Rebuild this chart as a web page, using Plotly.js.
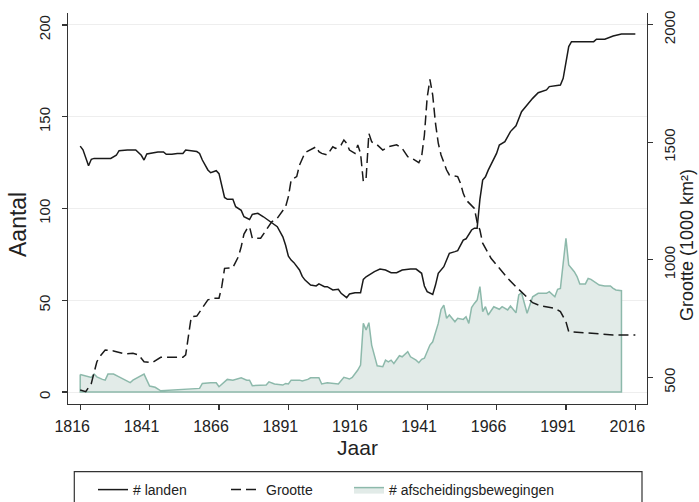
<!DOCTYPE html>
<html>
<head>
<meta charset="utf-8">
<script src="https://cdn.plot.ly/plotly-3.0.1.min.js"></script>
<style>html,body{margin:0;padding:0;background:#fff;}#chart{width:699px;height:502px;}</style>
</head>
<body>
<div id="chart"></div>
<script>
// # landen (left axis)
const landenYears = [1816,1817,1819,1820,1821,1824,1827,1829,1830,1833,1836,1838,1839,1840,1844,1846,1847,1849,1851,1853,1854,1858,1859,1860,1862,1863,1865,1866,1867,1868,1869,1871,1872,1874,1875,1877,1878,1880,1882,1885,1887,1889,1890,1891,1892,1893,1895,1896,1897,1899,1901,1902,1904,1905,1907,1909,1910,1912,1913,1915,1917,1918,1919,1922,1924,1926,1928,1930,1932,1935,1937,1939,1940,1941,1943,1944,1945,1947,1949,1951,1952,1954,1955,1957,1958,1959,1960,1961,1962,1963,1966,1967,1969,1971,1973,1975,1976,1979,1981,1984,1985,1989,1990,1991,1992,1993,2001,2002,2005,2008,2011,2016];
const landen = [134,132,123.3,126.8,127.3,127.5,127.3,129,131.5,131.9,131.9,129,126.4,129.7,130.8,130.8,129.5,129.5,130,130,131.9,131,130,126.4,121,119.5,120.6,119,112,106,105,105,101,99,95.5,94,96.8,97.4,95.5,92.3,90.1,84.6,80,74,71.9,70.5,66.5,63,61,58.3,57.8,58.9,57.4,57.4,55.6,56,53.8,51.4,53.4,54.1,54.1,61.4,62.8,65.6,67,66.5,65,65,66.5,67,67,64.7,57.8,54.7,53.2,58.3,64.7,68.3,75.6,76.5,77,82.8,83.5,88.3,89.3,89.3,105,115.5,117.3,120.9,130,134.6,136.4,141.9,145,152.7,154.6,160,163.1,164.6,166.4,167.3,170.9,180.9,188.2,190.9,190.9,192.2,192.2,194,195.1,195.1];

// Grootte (1000 km²) (right axis)
const grootteYears = [1816,1818,1820,1822,1823,1825,1828,1832,1835,1837,1839,1842,1845,1848,1853,1854,1855,1856,1858,1860,1862,1864,1866,1867,1868,1871,1873,1874,1875,1876,1877,1878,1881,1883,1885,1887,1889,1890,1891,1892,1894,1895,1897,1899,1901,1902,1903,1905,1907,1908,1910,1911,1912,1913,1915,1916,1917,1918,1919,1920,1921,1923,1925,1927,1930,1932,1934,1936,1938,1939,1940,1941,1942,1943,1944,1945,1946,1948,1949,1952,1953,1954,1955,1958,1959,1960,1961,1964,1967,1970,1973,1976,1979,1982,1987,1989,1991,1992,1997,2003,2008,2016];
const grootte = [447,440,475,567,588,617,613,600,603,596,567,563,586,586,586,596,688,758,761,794,830,837,837,886,964,967,1014,1056,1110,1130,1141,1092,1092,1127,1162,1177,1212,1226,1269,1340,1354,1403,1456,1470,1481,1460,1453,1446,1481,1474,1489,1510,1496,1467,1453,1489,1453,1333,1347,1538,1502,1489,1467,1481,1489,1474,1439,1428,1413,1439,1530,1690,1768,1700,1580,1496,1446,1382,1361,1354,1326,1283,1255,1219,1160,1127,1071,1007,964,922,886,851,818,804,794,780,737,695,691,688,681,681];

// # afscheidingsbewegingen (left axis)
const afschYears = [1816,1818,1820,1821,1822,1824,1825,1826,1828,1830,1832,1834,1835,1838,1839,1840,1841,1843,1845,1859,1860,1863,1865,1866,1868,1869,1871,1874,1876,1877,1878,1880,1883,1884,1886,1889,1890,1891,1892,1895,1896,1898,1899,1902,1903,1905,1907,1909,1911,1913,1914,1916,1917,1918,1919,1920,1921,1922,1923,1925,1926,1927,1928,1929,1931,1932,1934,1935,1937,1938,1939,1940,1942,1943,1945,1946,1947,1948,1949,1951,1952,1954,1955,1956,1957,1958,1959,1960,1961,1962,1963,1965,1967,1968,1970,1971,1973,1974,1975,1977,1979,1981,1984,1985,1987,1988,1989,1990,1991,1992,1994,1995,1996,1998,1999,2000,2003,2005,2007,2008,2009,2011];
const afsch = [9.6,8.9,8.0,9.8,8.3,6.9,6.5,9.8,9.8,8.3,6.5,5.1,6.5,8.7,9.8,6.5,3.3,2.6,0.7,2,4.7,5.1,5.1,2.9,5.6,6.9,6.5,7.8,6.5,6.5,3.5,3.5,3.8,5.6,4.4,3.8,4.7,4.4,6.5,6.5,6.0,6.9,7.8,7.8,4.4,5.1,4.7,4.4,8.0,7.1,8.0,12,14.7,37.4,33.8,37.8,25.6,20.2,14.3,13.8,17.4,16.5,17.4,15.6,19.8,19.2,22,19.2,17.4,16,17.8,18.4,25.6,27.4,37.4,45,47.4,40.2,42,38.3,40.2,39.6,41,37.4,46,48.3,50.1,57.4,43.8,46.5,42,46.5,45.1,46.5,44.7,46.9,43.2,52.9,54.1,42.9,51.9,53.8,53.8,54.7,51.9,56,56.5,70.1,83.8,69.2,65.6,62.9,58.9,58.9,61.9,61.4,58.3,57.8,57.8,56.5,55.6,55.2];

const xTicks = [1816,1841,1866,1891,1916,1941,1966,1991,2016];
const yTicks = [0,50,100,150,200];
const y2Ticks = [500,1000,1500,2000];

const FONT = '"Liberation Sans Narrow", "Liberation Sans", sans-serif';
const INK = '#222222';

// closed outline for the area (Stata-style outline around the fill)
const areaX = afschYears.concat([afschYears[afschYears.length-1], afschYears[0], afschYears[0]]);
const areaY = afsch.concat([0, 0, afsch[0]]);

const traces = [
  {x: areaX, y: areaY, type:'scatter', mode:'lines', fill:'toself',
   fillcolor:'#e2ebe8', line:{color:'#8db9ab', width:1.5},
   name:'# afscheidingsbewegingen', legend:'legend3', hoverinfo:'skip'},
  {x: landenYears, y: landen, type:'scatter', mode:'lines',
   line:{color:'#1a1a1a', width:1.5}, name:'# landen', legend:'legend'},
  {x: grootteYears, y: grootte, type:'scatter', mode:'lines', yaxis:'y2',
   line:{color:'#1a1a1a', width:1.5, dash:'10px,5px'}, name:'Grootte', legend:'legend2'}
];

const L = 68, R = 52, T = 13, B = 98;
const PW = 699 - L - R, PH = 502 - T - B;
const px2paperX = p => (p - L) / PW;
const px2paperY = p => (502 - B - p) / PH;

function legendAt(px) {
  return {orientation:'h', x: px2paperX(px), y: px2paperY(490), xanchor:'left', yanchor:'middle',
          bgcolor:'rgba(0,0,0,0)', borderwidth:0, font:{family:FONT, size:14, color:INK}};
}

const layout = {
  width: 699, height: 502,
  margin: {l:L, r:R, t:T, b:B, pad:0, autoexpand:false},
  paper_bgcolor:'#ffffff', plot_bgcolor:'#ffffff',
  font: {family: FONT, color: INK, size: 15},
  showlegend: true,
  legend: legendAt(93),
  legend2: legendAt(226),
  legend3: legendAt(349),
  xaxis: {range:[1811.6, 2020.2], tickvals:xTicks, ticktext:xTicks.map(String),
          showgrid:false, zeroline:false, showline:true, linecolor:'#333', linewidth:1.2,
          ticks:'outside', ticklen:5, tickcolor:'#333', tickwidth:1.2,
          tickfont:{family:FONT, size:16, color:INK}, ticklabelshift:-8, ticklabelstandoff:3,
          title:{text:'Jaar', font:{family:FONT, size:21, color:INK}, standoff:5}},
  yaxis: {range:[-6.5, 206.5], tickvals:yTicks, ticktext:yTicks.map(String),
          showgrid:true, gridcolor:'#eeeeee', gridwidth:1, zeroline:false,
          showline:true, linecolor:'#333', linewidth:1.2,
          ticks:'outside', ticklen:5, tickcolor:'#333', tickwidth:1.2, tickangle:-90,
          tickfont:{family:FONT, size:15, color:INK}, ticklabelstandoff:6, ticklabelshift:5},
  yaxis2: {range:[387.3, 2049.7], overlaying:'y', side:'right', tickvals:y2Ticks, ticktext:y2Ticks.map(String),
          showgrid:false, zeroline:false, showline:true, linecolor:'#333', linewidth:1.2,
          ticks:'outside', ticklen:5, tickcolor:'#333', tickwidth:1.2, tickangle:-90,
          tickfont:{family:FONT, size:15, color:INK}, ticklabelstandoff:4, ticklabelshift:5},
  annotations: [
    {text:'Aantal', xref:'paper', yref:'paper', x:px2paperX(18), y:px2paperY(225), textangle:-90,
     showarrow:false, xanchor:'center', yanchor:'middle', font:{family:FONT, size:23, color:INK}},
    {text:'Grootte (1000 km²)', xref:'paper', yref:'paper', x:px2paperX(687), y:px2paperY(245), textangle:-90,
     showarrow:false, xanchor:'center', yanchor:'middle', font:{family:FONT, size:18, color:INK}}
  ],
  shapes: [
    {type:'rect', xref:'paper', yref:'paper', x0:px2paperX(74.3), x1:px2paperX(642), y0:px2paperY(510), y1:px2paperY(471.7),
     line:{color:'#333', width:1.2}, fillcolor:'rgba(0,0,0,0)', layer:'above'}
  ]
};

Plotly.newPlot('chart', traces, layout, {staticPlot:true, displayModeBar:false});
</script>
</body>
</html>
